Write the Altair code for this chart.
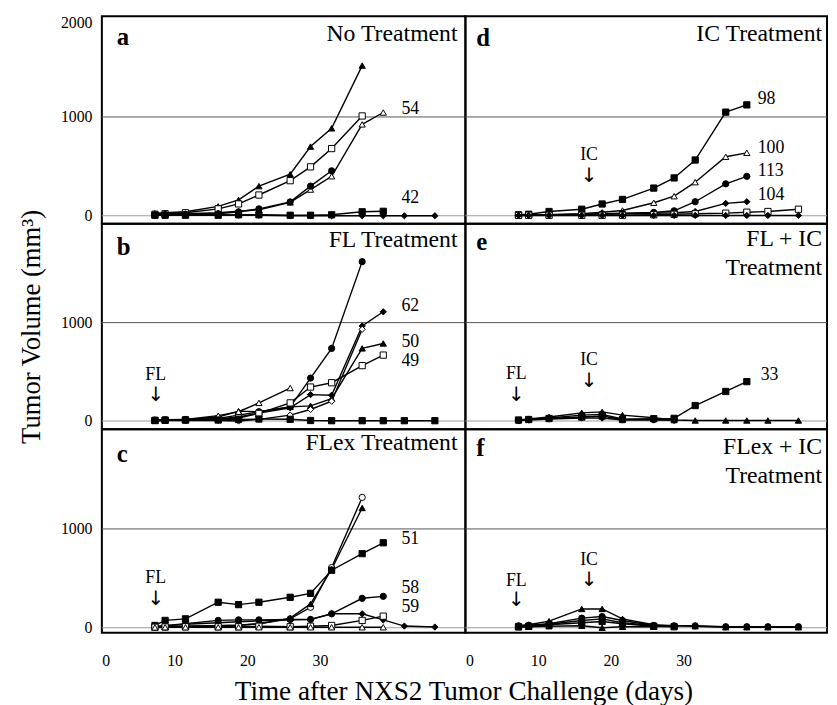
import altair as alt
import pandas as pd

FONT = "Liberation Serif"

# Measurement days (read in the units of the printed x axis)
DAYS = [7.3, 8.7, 11.5, 16.0, 18.8, 21.6, 25.9, 28.7, 31.6, 35.8, 38.7, 41.6, 45.8]

# ---- panel a: No Treatment
A_TRI_F = [25, 30, 40, 95, 160, 300, 420, 700, 885, 1520]
A_SQ_O = [15, 20, 30, 70, 120, 210, 355, 495, 680, 1010]
A_TRI_O = [10, 15, 20, 30, 45, 60, 135, 265, 400, 925, 1045]
A_CIRC_F = [10, 12, 15, 20, 40, 70, 140, 300, 455]
A_SQ_F = [5, 5, 5, 5, 10, 10, 5, 5, 10, 40, 45]
A_DIA_F = [5, 10, 15, 10, 5, 5, 0, 0, 0, 0, 0, 0, 0]

# ---- panel b: FL Treatment
B_CIRC_F = [10, 12, 15, 27, 60, 94, 144, 436, 738, 1620]
B_DIA_F = [5, 8, 10, 20, 40, 80, 134, 268, 262, 966, 1110]
B_TRI_F = [8, 10, 15, 40, 100, 94, 144, 154, 228, 738, 788]
B_SQ_O = [5, 8, 10, 20, 30, 77, 184, 345, 389, 563, 670]
B_TRI_O = [5, 10, 15, 54, 94, 184, 335]
B_DIA_O = [3, 5, 5, 5, 0, 17, 60, 117, 201, 932]
B_SQ_F = [5, 8, 10, 10, 15, 20, 17, 5, 3, 3, 3, 3, 3]

# ---- panel c: FLex Treatment
C_CIRC_O = [5, 10, 15, 20, 25, 40, 90, 207, 609, 1319]
C_TRI_F = [5, 10, 15, 20, 25, 40, 97, 241, 592, 1212]
C_SQ_F = [23, 74, 90, 258, 234, 258, 308, 348, 582, 750, 860]
C_CIRC_F = [10, 20, 40, 74, 80, 80, 84, 84, 141, 298, 318]
C_DIA_F = [10, 20, 35, 50, 60, 70, 80, 84, 141, 141, 80, 17, 7]
C_SQ_O = [5, 8, 10, 10, 10, 15, 10, 15, 23, 74, 117]
C_TRI_O = [3, 5, 5, 5, 5, 5, 5, 5, 5, 5, 5]

# ---- panel d: IC Treatment
D_SQ_F = [10, 15, 43, 66, 119, 165, 280, 383, 564, 1049, 1122]
D_TRI_O = [5, 8, 10, 20, 35, 53, 132, 198, 340, 597, 637]
D_CIRC_F = [5, 8, 10, 15, 20, 25, 33, 50, 142, 323, 399]
D_DIA_F = [3, 5, 8, 10, 15, 20, 25, 30, 43, 125, 142]
D_SQ_O = [3, 5, 5, 5, 5, 5, 10, 15, 20, 26, 36, 43, 66]
D_DIA_F2 = [2, 3, 3, 3, 3, 3, 3, 3, 3, 3, 3, 3, 3]

# ---- panel e: FL + IC Treatment
E_SQ_F = [10, 15, 25, 40, 50, 15, 23, 27, 157, 300, 400]
E_TRI_F = [10, 20, 40, 83, 93, 60, 33, 10, 5, 5, 5, 5, 5]
E_CIRC_F = [5, 15, 30, 60, 67, 20, 15, 10]
E_DIA_F = [5, 10, 20, 30, 30, 10, 10, 10]

# ---- panel f: FLex + IC Treatment
F_TRI_F = [20, 30, 67, 190, 190, 90, 30, 20, 15, 5, 5, 5, 5]
F_CIRC_F = [20, 25, 40, 97, 113, 73, 23, 20, 20, 10, 10, 10, 10]
F_SQ_F = [10, 15, 30, 50, 63, 40, 15, 10]
F_DIA_F = [10, 20, 35, 73, 90, 50, 20, 15]
F_TRI_F2 = [5, 10, 15, 20, 0, 10, 10]

PANELS = {
    "a": [("tri_f", A_TRI_F), ("sq_o", A_SQ_O), ("tri_o", A_TRI_O), ("circ_f", A_CIRC_F),
          ("sq_f", A_SQ_F), ("dia_f", A_DIA_F)],
    "b": [("circ_f", B_CIRC_F), ("dia_f", B_DIA_F), ("tri_f", B_TRI_F), ("sq_o", B_SQ_O),
          ("tri_o", B_TRI_O), ("dia_o", B_DIA_O), ("sq_f", B_SQ_F)],
    "c": [("circ_o", C_CIRC_O), ("tri_f", C_TRI_F), ("sq_f", C_SQ_F), ("circ_f", C_CIRC_F),
          ("dia_f", C_DIA_F), ("sq_o", C_SQ_O), ("tri_o", C_TRI_O)],
    "d": [("sq_f", D_SQ_F), ("tri_o", D_TRI_O), ("circ_f", D_CIRC_F), ("dia_f", D_DIA_F),
          ("sq_o", D_SQ_O), ("dia_f", D_DIA_F2)],
    "e": [("sq_f", E_SQ_F), ("tri_f", E_TRI_F), ("circ_f", E_CIRC_F), ("dia_f", E_DIA_F)],
    "f": [("tri_f", F_TRI_F), ("circ_f", F_CIRC_F), ("sq_f", F_SQ_F), ("dia_f", F_DIA_F),
          ("tri_f", F_TRI_F2)],
}

TITLES = {
    "a": ["No Treatment"], "b": ["FL Treatment"], "c": ["FLex Treatment"],
    "d": ["IC Treatment"], "e": ["FL + IC", "Treatment"], "f": ["FLex + IC", "Treatment"],
}

# end-of-line mouse numbers: (text, day, volume)
NUMBERS = {
    "a": [("54", 41.2, 1080), ("42", 41.2, 180)],
    "b": [("62", 41.2, 1164), ("50", 41.2, 805), ("49", 41.2, 614)],
    "c": [("51", 41.2, 900), ("58", 41.2, 402), ("59", 41.2, 207)],
    "d": [("98", 40.2, 1182), ("100", 40.2, 688), ("113", 40.2, 448), ("104", 40.2, 205)],
    "e": [("33", 40.6, 466)],
    "f": [],
}

# treatment arrows: (label, day, label volume, arrow volume)
ARROWS = {
    "a": [],
    "b": [("FL", 7.4, 470, 265)],
    "c": [("FL", 7.4, 500, 290)],
    "d": [("IC", 17.0, 615, 405)],
    "e": [("FL", 7.0, 475, 265), ("IC", 17.0, 615, 405)],
    "f": [("FL", 7.0, 475, 275), ("IC", 17.0, 690, 480)],
}

GRID = [0, 1000]
GRID_KIND = ["zero", "thousand"]
X_TICKS = [0, 10, 20, 30]
X_TITLE = "Time after NXS2 Tumor Challenge (days)"
Y_TITLE = "Tumor Volume (mm³)"

MARKERS = ["tri_f", "tri_o", "sq_f", "sq_o", "circ_f", "circ_o", "dia_f", "dia_o"]
SHAPES = ["triangle-up", "triangle-up", "square", "square", "circle", "circle", "diamond", "diamond"]
FILLS = ["black", "white", "black", "white", "black", "white", "black", "white"]

LAYOUT = [["a", "d"], ["b", "e"], ["c", "f"]]
ROW_H = [210, 208, 206]
ROW_DOM = [[-80, 2020], [-83, 2006], [-50, 2010]]
COL_W = [368, 366]
COL_DOM = [[0, 50], [0, 49.73]]
TITLE_BASE = {"a": [25], "b": [24], "c": [21], "d": [25], "e": [23, 52], "f": [25, 54]}
LETTER_BASE = {"a": 29, "b": 32, "c": 33, "d": 30, "e": 27, "f": 27}


def panel(key, row, col):
    w, h = COL_W[col], ROW_H[row]
    recs = []
    for i, (marker, vals) in enumerate(PANELS[key]):
        for d, v in zip(DAYS, vals):
            recs.append({"series": f"{key}{i}", "marker": marker, "day": d, "vol": v})
    df = pd.DataFrame(recs)

    xscale = alt.Scale(domain=COL_DOM[col], nice=False, zero=False)
    yscale = alt.Scale(domain=ROW_DOM[row], nice=False, zero=False)

    if row == 2:
        akw = dict(values=X_TICKS, ticks=False, domain=False, grid=False,
                   labelFont=FONT, labelFontSize=16, labelPadding=20, labelColor="black")
        if col == 0:
            akw.update(title=X_TITLE, titleFont=FONT, titleFontSize=27.5, titleFontWeight="normal",
                       titleColor="black", titleX=366, titleAlign="center", titlePadding=10)
        else:
            akw.update(title="")
        xaxis = alt.Axis(**akw)
    else:
        xaxis = None

    if col == 0:
        ykw = dict(values=[0, 1000, 2000] if row == 0 else [0, 1000], format="d",
                   ticks=False, domain=False, grid=False,
                   labelFont=FONT, labelFontSize=16, labelPadding=10,
                   labelOffset={"condition": {"test": "datum.value == 2000", "value": 4},
                                "value": 0},
                   labelColor="black")
        if row == 1:
            ykw.update(title=Y_TITLE, titleFont=FONT, titleFontSize=27, titleFontWeight="normal",
                       titleColor="black", titlePadding=15)
        else:
            ykw.update(title="")
        yaxis = alt.Axis(**ykw)
    else:
        yaxis = None

    def X(field):
        return alt.X(field, scale=xscale, axis=xaxis)

    def Y(field):
        return alt.Y(field, scale=yscale, axis=yaxis)

    gdf = pd.DataFrame({"g": GRID, "kind": GRID_KIND})
    grid = alt.Chart(gdf).mark_rule(strokeWidth=1).encode(
        y=Y("g:Q"),
        color=alt.Color("kind:N", scale=alt.Scale(domain=GRID_KIND, range=["#9a9a9a", "#555555"]),
                        legend=None),
    )

    base = alt.Chart(df)
    lines = base.mark_line(color="black", strokeWidth=1.4).encode(
        x=X("day:Q"), y=Y("vol:Q"), detail="series:N")
    points = base.mark_point(filled=True, stroke="black", strokeWidth=1, size=40, opacity=1).encode(
        x=X("day:Q"), y=Y("vol:Q"),
        shape=alt.Shape("marker:N", scale=alt.Scale(domain=MARKERS, range=SHAPES), legend=None),
        fill=alt.Fill("marker:N", scale=alt.Scale(domain=MARKERS, range=FILLS), legend=None),
    )

    layers = [grid, lines, points]

    rpad = 8 if col == 0 else 5
    for t, yb in zip(TITLES[key], TITLE_BASE[key]):
        layers.append(
            alt.Chart(pd.DataFrame({"t": [t]})).mark_text(
                align="right", baseline="alphabetic", font=FONT, fontSize=24, color="black"
            ).encode(x=alt.value(w - rpad), y=alt.value(yb), text="t:N")
        )
    layers.append(
        alt.Chart(pd.DataFrame({"t": [key]})).mark_text(
            align="left", baseline="alphabetic", font=FONT, fontSize=25, fontWeight="bold",
            color="black"
        ).encode(x=alt.value(15 if col == 0 else 11), y=alt.value(LETTER_BASE[key]), text="t:N")
    )

    if NUMBERS[key]:
        ndf = pd.DataFrame(NUMBERS[key], columns=["t", "day", "vol"])
        layers.append(
            alt.Chart(ndf).mark_text(align="left", baseline="middle", font=FONT, fontSize=18,
                                     color="black").encode(x=X("day:Q"), y=Y("vol:Q"), text="t:N")
        )
    if ARROWS[key]:
        adf = pd.DataFrame(ARROWS[key], columns=["t", "day", "vol", "avol"])
        adf["arrow"] = "↓"
        layers.append(
            alt.Chart(adf).mark_text(align="center", baseline="middle", font=FONT, fontSize=18,
                                     color="black").encode(x=X("day:Q"), y=Y("vol:Q"), text="t:N")
        )
        layers.append(
            alt.Chart(adf).mark_text(
                align="center", baseline="middle", font="DejaVu Sans", fontSize=20, color="black"
            ).encode(x=X("day:Q"), y=Y("avol:Q"), text="arrow:N")
        )

    return alt.layer(*layers).properties(width=w, height=h)


cells = []
for r, pair in enumerate(LAYOUT):
    for c, k in enumerate(pair):
        cells.append(panel(k, r, c))

chart = alt.concat(*cells, columns=2, spacing=0, bounds="flush").properties(
    padding={"left": 8, "top": 0, "right": 0, "bottom": 0}
).configure_view(stroke="black", strokeWidth=2)

chart.save("out.html", embed_options={"renderer": "svg", "actions": False})
